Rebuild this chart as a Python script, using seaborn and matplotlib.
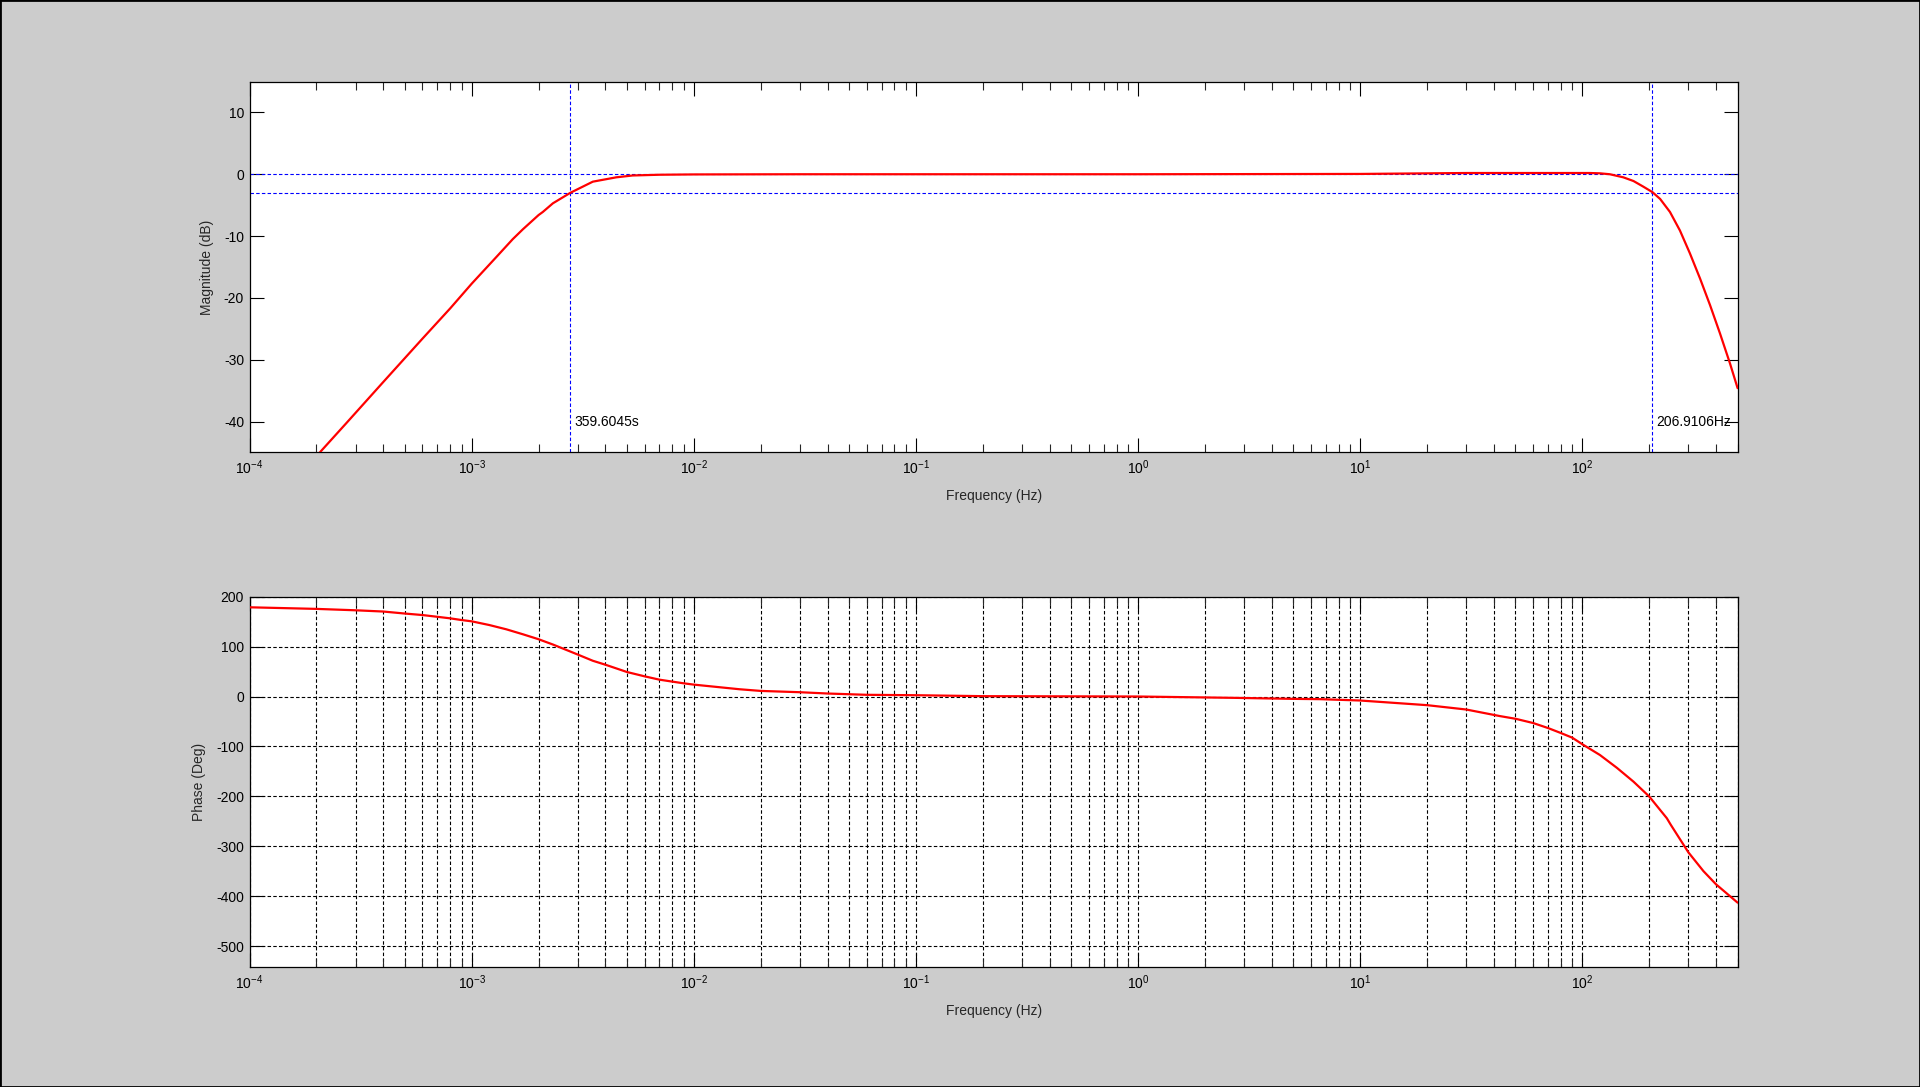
import numpy as np
import matplotlib
matplotlib.use("Agg")
import matplotlib.pyplot as plt
import matplotlib.ticker as mticker
from matplotlib.patches import Rectangle
import seaborn as sns

# magnitude response (Hz, dB)
freq_mag = [2.0e-4, 2.72e-4, 4e-4, 6e-4, 8e-4, 1e-3, 1.29e-3, 1.53e-3, 1.7e-3, 2e-3,
            2.09e-3, 2.32e-3, 2.78e-3, 3.51e-3, 4.47e-3, 5.3e-3, 7e-3, 1e-2, 3e-2, 1e-1,
            1.0, 10.0, 30.0, 60.0, 108.0, 120.0, 133.0, 153.0, 170.0, 188.0,
            206.9, 224.0, 248.0, 275.0, 305.0, 339.0, 376.0, 417.0, 462.0, 500.0]
mag_db = [-45.6, -40.3, -33.6, -26.6, -21.7, -17.7, -13.4, -10.5, -8.9, -6.6,
          -6.1, -4.7, -3.0, -1.2, -0.5, -0.2, -0.08, -0.03, 0.0, 0.0,
          0.0, 0.05, 0.2, 0.2, 0.2, 0.15, 0.0, -0.5, -1.1, -2.0,
          -2.9, -4.0, -6.1, -9.1, -12.8, -16.9, -21.2, -25.8, -30.6, -34.6]

# phase response (Hz, deg)
freq_ph = [1e-4, 2e-4, 3e-4, 4e-4, 5e-4, 6e-4, 7.15e-4, 8e-4, 9e-4, 1e-3,
           1.2e-3, 1.43e-3, 1.7e-3, 2e-3, 2.32e-3, 2.66e-3, 3e-3, 3.51e-3, 4e-3, 5e-3,
           6e-3, 7e-3, 8e-3, 9e-3, 1e-2, 1.6e-2, 2e-2, 3e-2, 4e-2, 6e-2,
           1e-1, 0.2, 0.66, 1.0, 2.75, 5.0, 6.6, 10.0, 20.0, 30.0,
           42.6, 50.0, 60.0, 70.0, 80.0, 90.0, 100.0, 120.0, 143.0, 170.0,
           200.0, 240.0, 250.0, 300.0, 351.0, 400.0, 500.0]
phase_deg = [178.5, 175.3, 172.5, 170.0, 166.0, 163.0, 159.0, 156.4, 153.0, 150.4,
             143.0, 134.5, 124.5, 114.6, 104.0, 93.4, 84.0, 71.5, 63.6, 49.0,
             40.4, 33.7, 29.8, 26.4, 23.8, 14.6, 11.2, 8.6, 6.0, 3.4,
             2.6, 0.7, 0.2, 0.0, -2.7, -4.7, -5.3, -8.0, -17.3, -26.0,
             -39.2, -44.5, -53.0, -63.0, -73.0, -82.3, -95.5, -117.0, -142.6, -170.4,
             -200.0, -243.4, -256.5, -311.6, -349.4, -375.8, -412.4]

# cut-off markers
ref_db = [0, -3]
cut_freqs = [1 / 359.6045, 206.9106]
cut_labels = ["359.6045s", "206.9106Hz"]

mag_yticks = [-40, -30, -20, -10, 0, 10]
ph_yticks = [-500, -400, -300, -200, -100, 0, 100, 200]

sns.set_theme(style="ticks")
plt.rcParams["font.family"] = ["Liberation Sans", "DejaVu Sans"]
plt.rcParams["mathtext.fontset"] = "custom"
plt.rcParams["mathtext.rm"] = "Liberation Sans"
plt.rcParams["mathtext.it"] = "Liberation Sans"
plt.rcParams["mathtext.default"] = "regular"
plt.rcParams["axes.unicode_minus"] = False
plt.rcParams["lines.scale_dashes"] = False

fig = plt.figure(figsize=(19.2, 10.87), dpi=100, facecolor="#cccccc")
ax1 = fig.add_axes([0.13, 0.5838, 0.775, 0.3412])
ax2 = fig.add_axes([0.13, 0.11, 0.775, 0.3412])

dash = (0, (2.5, 1.6))

for ax in (ax1, ax2):
    ax.set_facecolor("white")
    ax.set_xscale("log")
    ax.set_xlim(1e-4, 500)
    for sp in ax.spines.values():
        sp.set_visible(True)
        sp.set_color("black")
        sp.set_linewidth(0.9)
    ax.xaxis.set_major_locator(mticker.LogLocator(base=10, numticks=20))
    ax.xaxis.set_minor_locator(mticker.LogLocator(base=10, subs=np.arange(2, 10), numticks=100))
    ax.xaxis.set_minor_formatter(mticker.NullFormatter())
    ax.tick_params(which="major", direction="in", length=10, width=0.8,
                   top=True, right=True, labelsize=10, colors="black", pad=4)
    ax.tick_params(which="minor", direction="in", length=5.5, width=0.8,
                   top=True, right=True)
    ax.set_xlabel("Frequency (Hz)", fontsize=10, labelpad=9)

# magnitude
for v in ref_db:
    ax1.axhline(v, color="blue", lw=0.8, ls=dash, zorder=1)
for f in cut_freqs:
    ax1.axvline(f, color="blue", lw=0.8, ls=dash, zorder=1)
sns.lineplot(x=freq_mag, y=mag_db, ax=ax1, color="red", lw=1.6, sort=False, zorder=3)
ax1.set_ylim(-45, 15)
ax1.set_yticks(mag_yticks)
ax1.set_ylabel("Magnitude (dB)", fontsize=10, labelpad=7)
for f, lab in zip(cut_freqs, cut_labels):
    ax1.annotate(lab, xy=(f, -40), xytext=(3, 0), textcoords="offset points",
                 ha="left", va="center", fontsize=10, color="black")

# phase
ax2.grid(True, which="major", axis="both", color="black", lw=0.8, ls=dash)
ax2.grid(True, which="minor", axis="x", color="black", lw=0.8, ls=dash)
ax2.set_axisbelow(True)
sns.lineplot(x=freq_ph, y=phase_deg, ax=ax2, color="red", lw=1.6, sort=False, zorder=3)
ax2.set_ylim(-542, 200)
ax2.set_yticks(ph_yticks)
ax2.set_ylabel("Phase (Deg)", fontsize=10, labelpad=7)

fig.patches.append(Rectangle((0, 0), 1, 1, transform=fig.transFigure, fill=False,
                             edgecolor="black", lw=2))

fig.savefig("out.png", dpi=100, facecolor=fig.get_facecolor())
